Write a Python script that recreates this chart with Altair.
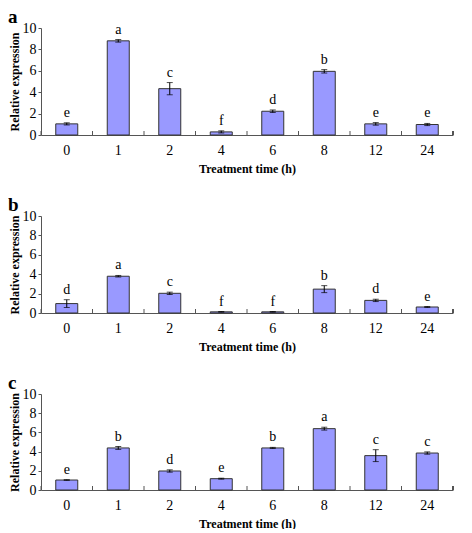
import altair as alt
import pandas as pd

times = ["0", "1", "2", "4", "6", "8", "12", "24"]

values_a = [1.04, 8.80, 4.33, 0.29, 2.22, 5.95, 1.04, 0.98]
errors_a = [0.10, 0.12, 0.57, 0.10, 0.12, 0.16, 0.12, 0.10]
letters_a = ["e", "a", "c", "f", "d", "b", "e", "e"]

values_b = [0.97, 3.79, 2.03, 0.12, 0.12, 2.46, 1.30, 0.62]
errors_b = [0.40, 0.08, 0.12, 0.03, 0.03, 0.36, 0.12, 0.05]
letters_b = ["d", "a", "c", "f", "f", "b", "d", "e"]

values_c = [1.04, 4.38, 1.98, 1.18, 4.38, 6.39, 3.58, 3.85]
errors_c = [0.03, 0.15, 0.12, 0.05, 0.06, 0.15, 0.62, 0.12]
letters_c = ["e", "b", "d", "e", "b", "a", "c", "c"]

y_ticks = [0, 2, 4, 6, 8, 10]

SERIF = "Liberation Serif"
W = 412
XT = "Treatment time (h)"
YT = "Relative expression"


def panel(label, vals, errs, lets, h):
    df = pd.DataFrame({
        "t": times,
        "v": vals,
        "lo": [v - e for v, e in zip(vals, errs)],
        "hi": [v + e for v, e in zip(vals, errs)],
        "lab": lets,
    })
    xscale = alt.Scale(paddingInner=0, paddingOuter=0)
    yscale = alt.Scale(domain=[0, 10])
    xaxis = alt.Axis(ticks=False, labelAngle=0, labelPadding=8, titlePadding=6,
                     labelFontSize=14, titleFontSize=12, titleFontWeight="bold")
    yaxis = alt.Axis(values=y_ticks, tickSize=3, labelPadding=2,
                     labelOverlap=False, labelFlush=False, labelBound=False,
                     titlePadding=1, grid=False, labelFontSize=14,
                     titleFontSize=12, titleFontWeight="bold")

    def X(**kw):
        return alt.X("t:N", sort=times, scale=xscale, title=XT, axis=xaxis, **kw)

    def Y(field):
        return alt.Y(field, scale=yscale, title=YT, axis=yaxis)

    base = alt.Chart(df)
    bars = base.mark_bar(size=22, color="#9999ff", stroke="#333333", strokeWidth=1).encode(
        x=X(), y=Y("v:Q"))
    err = base.mark_rule(color="black", strokeWidth=1).encode(
        x=X(), y=Y("lo:Q"), y2="hi:Q")
    cap_hi = base.mark_tick(size=6, thickness=1, color="black").encode(x=X(), y=Y("hi:Q"))
    cap_lo = base.mark_tick(size=6, thickness=1, color="black").encode(x=X(), y=Y("lo:Q"))
    txt = base.mark_text(baseline="bottom", dy=-3, font=SERIF, fontSize=14, color="black").encode(
        x=X(), y=Y("hi:Q"), text="lab:N")
    ticks = base.mark_rule(color="#555555").encode(
        x=X(bandPosition=0),
        y=alt.Y(datum=0, scale=yscale, title=YT, axis=yaxis), y2=alt.value(h - 4))
    endtick = base.mark_rule(color="#555555").encode(
        x=alt.value(W),
        y=alt.Y(datum=0, scale=yscale, title=YT, axis=yaxis), y2=alt.value(h - 4))
    return alt.layer(bars, err, cap_hi, cap_lo, txt, ticks, endtick).properties(
        width=W, height=h,
        title=alt.TitleParams(label, anchor="start", frame="bounds", font=SERIF,
                              fontSize=19, fontWeight="bold", offset=-6, color="black"),
    )


chart = alt.vconcat(
    panel("a", values_a, errors_a, letters_a, 107),
    panel("b", values_b, errors_b, letters_b, 97),
    panel("c", values_c, errors_c, letters_c, 96),
    spacing=22,
).properties(padding=0).configure_axis(
    labelFont=SERIF, titleFont=SERIF, labelColor="black", titleColor="black",
    domainColor="#555555", tickColor="#555555",
).configure_view(stroke=None)

chart.save("out.html", embed_options={"renderer": "svg", "actions": False})
